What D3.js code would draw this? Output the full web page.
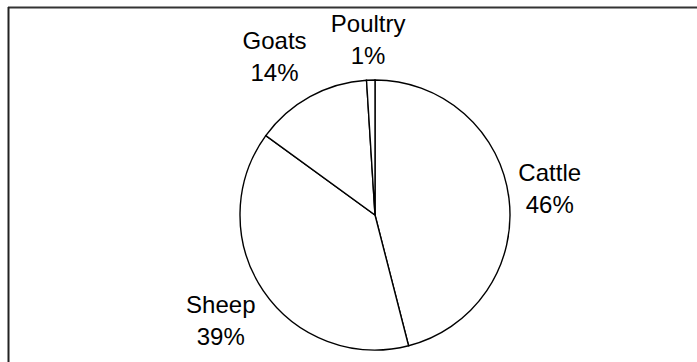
<!DOCTYPE html>
<html>
<head>
<meta charset="utf-8">
<script src="https://cdn.jsdelivr.net/npm/d3@7"></script>
<style>
  html, body { margin: 0; padding: 0; background: #fff; }
  svg { display: block; }
  text { font-family: "Liberation Sans", Arial, sans-serif; }
</style>
</head>
<body>
<svg id="chart" width="697" height="362"></svg>
<script>
// Livestock share by type (percent)
const categories = ["Cattle", "Sheep", "Goats", "Poultry"];
const shares = [46, 39, 14, 1];

const width = 697, height = 362;
const cx = 375, cy = 215, radius = 135;
const fontSize = 24, lineHeight = 32, labelGap = 9.5, labelLift = 2;

const svg = d3.select("#chart");

// Chart frame: top and left edges
svg.append("line")
  .attr("x1", 8).attr("y1", 7.5).attr("x2", width).attr("y2", 7.5)
  .attr("stroke", "#333").attr("stroke-width", 2);
svg.append("line")
  .attr("x1", 8.5).attr("y1", 7).attr("x2", 8.5).attr("y2", height)
  .attr("stroke", "#222").attr("stroke-width", 2);

const data = categories.map((c, i) => ({ name: c, value: shares[i] }));

const pie = d3.pie().value(d => d.value).sort(null);
const arc = d3.arc().innerRadius(0).outerRadius(radius);
const arcs = pie(data);

const g = svg.append("g").attr("transform", `translate(${cx},${cy})`);

g.selectAll("path.slice")
  .data(arcs)
  .join("path")
  .attr("class", "slice")
  .attr("d", arc)
  .attr("fill", "#fff")
  .attr("stroke", "#000")
  .attr("stroke-width", 1.4)
  .attr("stroke-linejoin", "miter");

// Two-line labels placed just outside each slice along its mid-angle
const labels = g.selectAll("text.lab")
  .data(arcs)
  .join("text")
  .attr("class", "lab")
  .attr("text-anchor", "middle")
  .attr("font-size", fontSize)
  .attr("fill", "#000");

labels.append("tspan")
  .attr("x", 0).attr("dy", 0)
  .text(d => d.data.name);
labels.append("tspan")
  .attr("x", 0).attr("dy", lineHeight)
  .text(d => d.data.value + "%");

const clamp = v => Math.max(-1, Math.min(1, v));

labels.each(function(d) {
  const sel = d3.select(this);
  const bb = this.getBBox();
  const mid = (d.startAngle + d.endAngle) / 2;
  const sx = Math.sin(mid), sy = -Math.cos(mid);
  // anchor point just beyond the rim, box pushed away from the pie
  const ax = sx * (radius + labelGap), ay = sy * (radius + labelGap);
  const px = ax + clamp(2 * sx) * bb.width / 2;
  const py = ay + clamp(1.6 * sy) * bb.height / 2 - labelLift;
  const bcx = bb.x + bb.width / 2, bcy = bb.y + bb.height / 2;
  sel.attr("transform", `translate(${px - bcx},${py - bcy})`);
});
</script>
</body>
</html>
